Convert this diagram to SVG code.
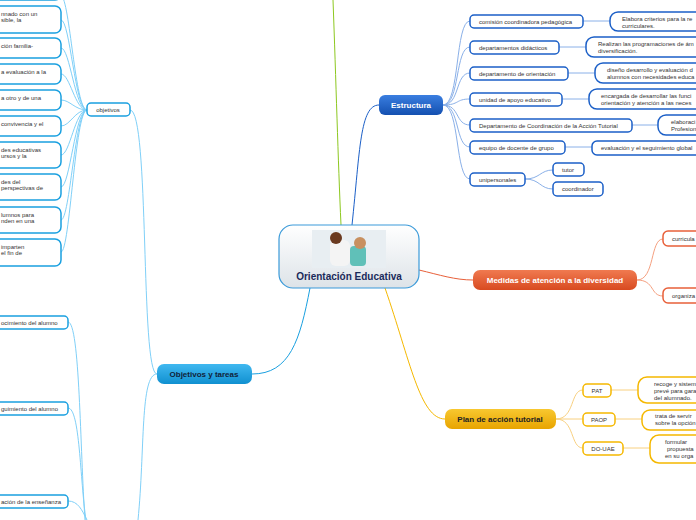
<svg xmlns="http://www.w3.org/2000/svg" width="696" height="520" viewBox="0 0 696 520">
<defs>
<linearGradient id="gc" x1="0" y1="0" x2="0" y2="1"><stop offset="0" stop-color="#ffffff"/><stop offset="1" stop-color="#dde3e8"/></linearGradient>
<linearGradient id="gb" x1="0" y1="0" x2="0" y2="1"><stop offset="0" stop-color="#3a7ee0"/><stop offset="1" stop-color="#1450b0"/></linearGradient>
<linearGradient id="go" x1="0" y1="0" x2="0" y2="1"><stop offset="0" stop-color="#f07a50"/><stop offset="1" stop-color="#d84a20"/></linearGradient>
<linearGradient id="gy" x1="0" y1="0" x2="0" y2="1"><stop offset="0" stop-color="#f8c830"/><stop offset="1" stop-color="#e8a400"/></linearGradient>
<linearGradient id="gl" x1="0" y1="0" x2="0" y2="1"><stop offset="0" stop-color="#40b8f0"/><stop offset="1" stop-color="#1090d0"/></linearGradient>
</defs>
<style>
text{font-family:"Liberation Sans",Arial,sans-serif;font-size:6px;fill:#333}
.n{fill:#fff;stroke-width:1.5}
.b{stroke:#1b5fc7}.o{stroke:#e8603a}.y{stroke:#f5b800}.l{stroke:#1aa0e0}
.main{font-weight:bold;font-size:8px}
.c path{fill:none;stroke-width:1}
</style>
<g class="c" id="connectors">
<path d="M333,0 C336,80 338,160 341,225" stroke="#8dc820" stroke-width="2"/>
<path d="M352,225 C360,150 360,105 379,105" stroke="#1b5fc7" stroke-width="1.5"/>
<path d="M419,270 C440,275 455,280 473,280" stroke="#e8603a" stroke-width="1.5"/>
<path d="M385,288 C410,360 420,419 445,419" stroke="#f5b800" stroke-width="1.5"/>
<path d="M310,288 C300,340 290,374 252,374" stroke="#1aa0e0" stroke-width="1.5"/>
<g stroke="#8ab0e8">
<path d="M443,105 C460,105 455,21 470,21"/><path d="M443,105 C460,105 455,47 470,47"/><path d="M443,105 C460,105 455,73 470,73"/><path d="M443,105 C460,105 455,99 470,99"/><path d="M443,105 C460,105 455,125 470,125"/><path d="M443,105 C460,105 455,147 470,147"/><path d="M443,105 C460,105 455,179 470,179"/>
<path d="M583,21 H610"/><path d="M559,47 H586"/><path d="M568,73 H595"/><path d="M562,99 H589"/><path d="M632,125 H658"/><path d="M565,147 H592"/>
<path d="M525,179 C540,179 540,170 553,170"/><path d="M525,179 C540,179 540,189 553,189"/>
</g>
<g stroke="#f5a080">
<path d="M637,280 C655,280 650,239 663,239"/><path d="M637,280 C655,280 650,296 663,296"/>
</g>
<g stroke="#f8d080">
<path d="M556,419 C575,419 570,390 583,390"/><path d="M556,419 H583"/><path d="M556,419 C575,419 570,448 583,448"/>
<path d="M611,390 H638"/><path d="M615,419 H642"/><path d="M623,448 H650"/>
</g>
<g stroke="#80d0f8">
<path d="M157,374 C140,374 150,110 130,110"/><path d="M157,374 C140,374 145,450 138,520"/>
<path d="M87,110 C75,110 70,0 61,-5"/><path d="M87,110 C75,110 70,20 61,20"/><path d="M87,110 C75,110 70,48 61,48"/><path d="M87,110 C75,110 70,74 61,74"/><path d="M87,110 C75,110 70,100 61,100"/><path d="M87,110 C75,110 70,126 61,126"/><path d="M87,110 C75,110 70,155 61,155"/><path d="M87,110 C75,110 70,187 61,187"/><path d="M87,110 C75,110 70,220 61,220"/><path d="M87,110 C75,110 70,252 61,252"/>
<path d="M68,322 C80,322 80,450 85,520"/><path d="M68,408 C80,408 80,480 86,520"/><path d="M68,501 C78,501 82,510 87,520"/>
</g>
</g>
<g id="central">
<rect x="279" y="225" width="140" height="63" rx="14" fill="url(#gc)" stroke="#3a9ad9" stroke-width="1.2"/>
<rect x="312" y="230" width="74" height="38" fill="#e8eef2"/>
<rect x="330" y="240" width="20" height="26" rx="6" fill="#f4f4f4"/>
<circle cx="336" cy="238" r="6" fill="#6a3a20"/>
<rect x="350" y="246" width="16" height="20" rx="4" fill="#60c0b8"/>
<circle cx="360" cy="243" r="6" fill="#c89060"/>
<text x="349" y="280" text-anchor="middle" style="font-size:10px;font-weight:bold;fill:#1a2a5a">Orientación Educativa</text>
</g>
<g id="estructura"><rect x="379" y="95" width="64" height="20" rx="6" fill="url(#gb)"/><text class="main" x="411" y="108" text-anchor="middle" style="fill:#fff">Estructura</text></g>
<g id="medidas"><rect x="473" y="270" width="164" height="20" rx="7" fill="url(#go)"/><text class="main" x="555" y="283" text-anchor="middle" style="fill:#fff">Medidas de atención a la diversidad</text></g>
<g id="plan"><rect x="445" y="409" width="111" height="20" rx="7" fill="url(#gy)"/><text class="main" x="500" y="422" text-anchor="middle" style="fill:#222">Plan de acción tutorial</text></g>
<g id="objtareas"><rect x="157" y="364" width="95" height="20" rx="7" fill="url(#gl)"/><text class="main" x="204" y="377" text-anchor="middle" style="fill:#10233a">Objetivos y tareas</text></g>

<g id="e1"><rect class="n b" x="470" y="15" width="113" height="13" rx="4"/><text x="479" y="24">comisión coordinadora pedagógica</text></g>
<g id="e2"><rect class="n b" x="470" y="41" width="89" height="13" rx="4"/><text x="479" y="50">departamentos didácticos</text></g>
<g id="e3"><rect class="n b" x="470" y="67" width="98" height="13" rx="4"/><text x="479" y="76">departamento de orientación</text></g>
<g id="e4"><rect class="n b" x="470" y="93" width="92" height="13" rx="4"/><text x="479" y="102">unidad de apoyo educativo</text></g>
<g id="e5"><rect class="n b" x="470" y="119" width="162" height="13" rx="4"/><text x="479" y="128">Departamento de Coordinación de la Acción Tutorial</text></g>
<g id="e6"><rect class="n b" x="470" y="141" width="95" height="13" rx="4"/><text x="479" y="150">equipo de docente de grupo</text></g>
<g id="e7"><rect class="n b" x="470" y="173" width="55" height="13" rx="4"/><text x="479" y="182">unipersonales</text></g>
<g id="e8"><rect class="n b" x="553" y="163" width="31" height="13" rx="4"/><text x="562" y="172">tutor</text></g>
<g id="e9"><rect class="n b" x="553" y="182" width="50" height="14" rx="4"/><text x="562" y="191">coordinador</text></g>
<g id="e1d"><rect class="n b" x="610" y="12" width="100" height="19" rx="8"/><text x="622" y="21">Elabora criterios para la re</text><text x="622" y="28">curriculares.</text></g>
<g id="e2d"><rect class="n b" x="586" y="37" width="120" height="20" rx="8"/><text x="598" y="46">Realizan las programaciones de ám</text><text x="598" y="53">diversificación.</text></g>
<g id="e3d"><rect class="n b" x="595" y="63" width="110" height="20" rx="8"/><text x="607" y="72">diseño desarrollo y evaluación d</text><text x="607" y="79">alumnos con necesidades educa</text></g>
<g id="e4d"><rect class="n b" x="589" y="89" width="115" height="20" rx="8"/><text x="601" y="98">encargada de desarrollar las funci</text><text x="601" y="105">orientación y atención a las neces</text></g>
<g id="e5d"><rect class="n b" x="658" y="115" width="50" height="20" rx="8"/><text x="671" y="124">elaboraci</text><text x="671" y="131">Profesion</text></g>
<g id="e6d"><rect class="n b" x="592" y="141" width="110" height="14" rx="5"/><text x="601" y="150">evaluación y el seguimiento global</text></g>

<g id="m1"><rect class="n o" x="663" y="231" width="40" height="15" rx="5"/><text x="672" y="241">curricula</text></g>
<g id="m2"><rect class="n o" x="663" y="288" width="40" height="15" rx="5"/><text x="672" y="298">organiza</text></g>

<g id="p1"><rect class="n y" x="583" y="384" width="28" height="13" rx="4"/><text x="597" y="393" text-anchor="middle">PAT</text></g>
<g id="p2"><rect class="n y" x="583" y="413" width="32" height="13" rx="4"/><text x="599" y="422" text-anchor="middle">PAOP</text></g>
<g id="p3"><rect class="n y" x="583" y="442" width="40" height="13" rx="4"/><text x="603" y="451" text-anchor="middle">DO-UAE</text></g>
<g id="p1d"><rect class="n y" x="638" y="377" width="70" height="26" rx="9"/><text x="654" y="386">recoge y sistem</text><text x="654" y="393">prevé para gara</text><text x="654" y="400">del alumnado.</text></g>
<g id="p2d"><rect class="n y" x="642" y="410" width="66" height="20" rx="8"/><text x="655" y="418">trata de servir</text><text x="655" y="425">sobre la opción</text></g>
<g id="p3d"><rect class="n y" x="650" y="435" width="58" height="28" rx="9"/><text x="665" y="444">formular</text><text x="667" y="451">propuesta</text><text x="665" y="458">en su orga</text></g>

<g id="objetivos"><rect class="n l" x="87" y="103" width="43" height="13" rx="4"/><text x="108" y="112" text-anchor="middle">objetivos</text></g>
<g id="o0"><rect class="n l" x="-20" y="-10" width="81" height="10" rx="6"/></g>
<g id="o1"><rect class="n l" x="-20" y="6" width="81" height="27" rx="6"/><text x="1" y="16">nnado con un</text><text x="1" y="22">sible, la</text></g>
<g id="o2"><rect class="n l" x="-20" y="38" width="81" height="20" rx="6"/><text x="1" y="48">ción familia-</text></g>
<g id="o3"><rect class="n l" x="-20" y="64" width="81" height="20" rx="6"/><text x="1" y="74">a evaluación a la</text></g>
<g id="o4"><rect class="n l" x="-20" y="90" width="81" height="20" rx="6"/><text x="1" y="100">a otro y de una</text></g>
<g id="o5"><rect class="n l" x="-20" y="116" width="81" height="20" rx="6"/><text x="1" y="126">convivencia y el</text></g>
<g id="o6"><rect class="n l" x="-20" y="142" width="81" height="26" rx="6"/><text x="1" y="152">des educativas</text><text x="1" y="158">ursos y la</text></g>
<g id="o7"><rect class="n l" x="-20" y="174" width="81" height="26" rx="6"/><text x="1" y="184">des del</text><text x="1" y="190">perspectivas de</text></g>
<g id="o8"><rect class="n l" x="-20" y="207" width="81" height="26" rx="6"/><text x="1" y="217">lumnos para</text><text x="1" y="223">nden en una</text></g>
<g id="o9"><rect class="n l" x="-20" y="239" width="81" height="27" rx="6"/><text x="1" y="249">imparten</text><text x="1" y="255">el fin de</text></g>
<g id="t1"><rect class="n l" x="-20" y="316" width="88" height="13" rx="4"/><text x="1" y="325">ocimiento del alumno</text></g>
<g id="t2"><rect class="n l" x="-20" y="402" width="88" height="13" rx="4"/><text x="1" y="411">guimiento del alumno</text></g>
<g id="t3"><rect class="n l" x="-20" y="495" width="88" height="13" rx="4"/><text x="1" y="504">ación de la enseñanza</text></g>
</svg>
